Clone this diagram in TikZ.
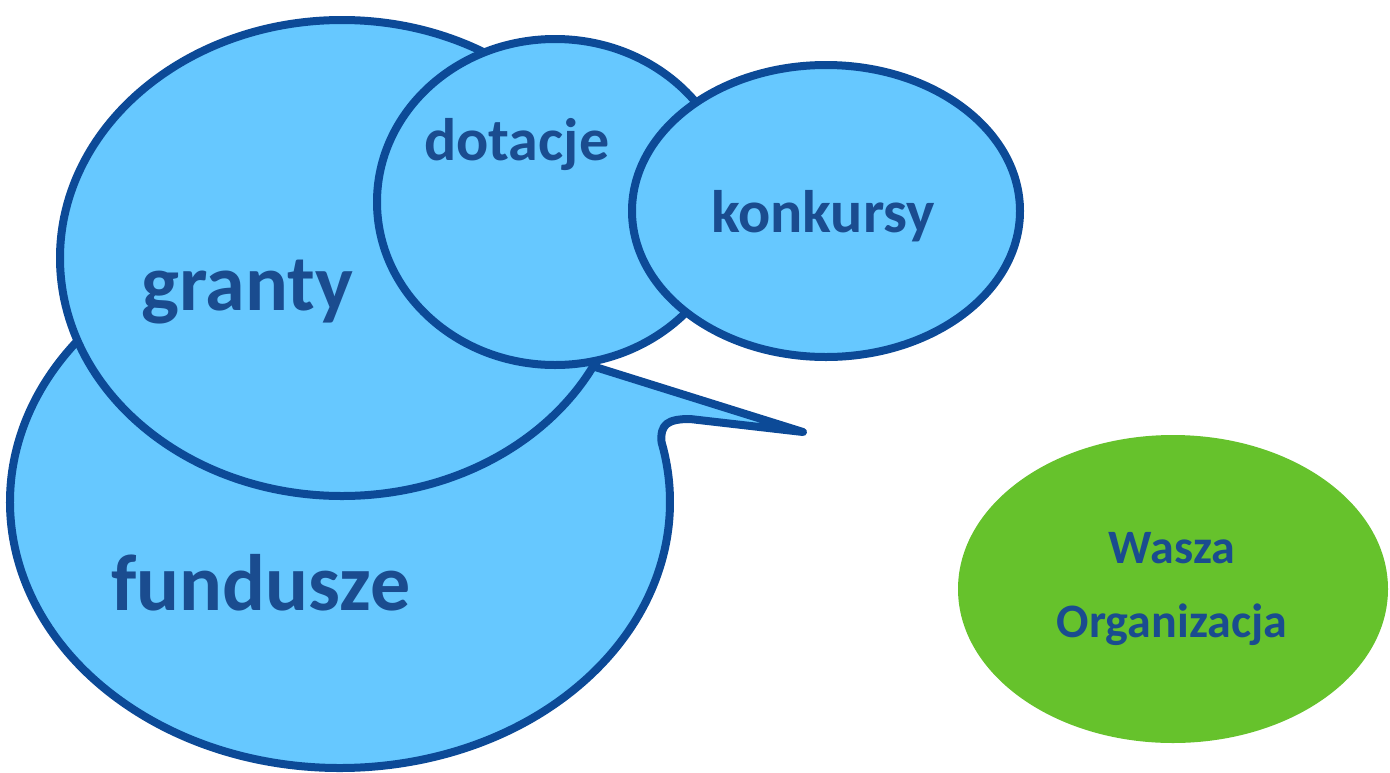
\documentclass[tikz,border=0pt]{standalone}
\usepackage{fontspec}
\setmainfont{Carlito}
\usepackage{tikz}
\usetikzlibrary{shapes.geometric, positioning}
\usepackage{xcolor}
\definecolor{rim}{HTML}{0C4A97}
\definecolor{sky}{HTML}{66C8FF}
\definecolor{leaf}{HTML}{66C22C}
\definecolor{ink}{HTML}{1A4C8F}

\begin{document}
\begin{tikzpicture}[x=1pt,y=-1pt]
    \tikzstyle{bubble}=[shape=ellipse,draw=rim,fill=sky,line width=8pt,inner sep=0pt]
    \tikzstyle{tag}=[text=ink,inner sep=0pt,anchor=base west]
    \tikzstyle{big}=[font=\bfseries\fontsize{80}{82}\selectfont]
    \tikzstyle{mid}=[font=\bfseries\fontsize{60}{62}\selectfont]

    \useasboundingbox (0,0) rectangle (1390,772);

    % speech bubble at the back
    \coordinate (fc) at (340,502);
    \coordinate (tip) at (803,432);
    \draw[draw=rim,fill=sky,line width=8pt,line join=round]
        (fc) ++(-50:330 and 266)
        arc[start angle=-50,end angle=-373,x radius=330,y radius=266]
        .. controls (660,424) and (668,419) .. (690,419)
        -- (tip) -- (560,356) -- cycle;

    \node[bubble,minimum width=564pt,minimum height=476pt] (granty) at (342,258) {};
    \node[bubble,minimum width=356pt,minimum height=326pt] (dotacje) at (555,202) {};
    \node[bubble,minimum width=388pt,minimum height=292pt] (konkursy) at (826,211) {};
    \node[shape=ellipse,fill=leaf,minimum width=430pt,minimum height=308pt] (org) at (1173,589) {};

    \node[tag,big] (t1) at (141,310) {granty};
    \node[tag,big] (t2) at (111,610) {fundusze};
    \node[tag,mid] (t3) at (424,160) {dotacje};
    \node[tag,mid] (t4) at (711,232) {konkursy};
    \node[tag,font=\bfseries\fontsize{48}{50}\selectfont,anchor=base] (t5) at (1172,563) {Wasza};
    \node[tag,font=\bfseries\fontsize{48}{50}\selectfont,anchor=base] (t6) at ([yshift=-74pt]t5.base) {Organizacja};
\end{tikzpicture}
\end{document}
